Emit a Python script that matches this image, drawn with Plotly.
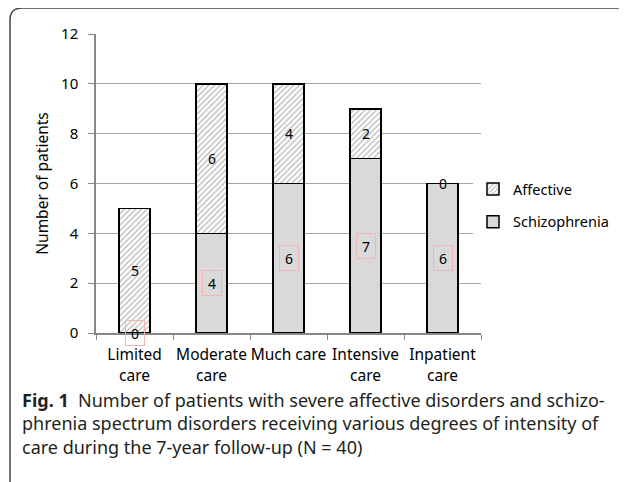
import plotly.graph_objects as go

categories = ["Limited<br>care", "Moderate<br>care", "Much care", "Intensive<br>care", "Inpatient<br>care"]
schizophrenia = [0, 4, 6, 7, 6]
affective = [5, 6, 4, 2, 0]
y_ticks = [0, 2, 4, 6, 8, 10, 12]

W, H = 627, 482
OFF = 8  # page body margin
L, R, T, B = 96 - OFF, 481 - OFF, 34 - OFF, 333 - OFF

fig = go.Figure()
fig.add_trace(go.Bar(
    x=categories, y=schizophrenia, name="Schizophrenia", legendgroup="s", legendrank=2,
    marker=dict(color="#d9d9d9", line=dict(color="black", width=1.5)),
    width=0.4,
))
fig.add_trace(go.Bar(
    x=categories, y=affective, name="Affective", legendgroup="a", legendrank=1,
    marker=dict(color="white", line=dict(color="black", width=1.5),
                pattern=dict(shape="/", fgcolor="#7a7a7a", bgcolor="white", size=4, solidity=0.35)),
    width=0.4,
))

font_main = "Noto Sans"
ann = []
for c, s, a in zip(categories, schizophrenia, affective):
    ann.append(dict(x=c, y=s / 2, xref="x", yref="y", text=str(s), showarrow=False,
                    font=dict(family=font_main, size=14, color="black"),
                    width=18, height=24, bordercolor="#f2b5b5", borderwidth=1, borderpad=0))
    ann.append(dict(x=c, y=s + a / 2, xref="x", yref="y", text=str(a), showarrow=False,
                    font=dict(family=font_main, size=14, color="black")))

def px(xs):
    return (xs - OFF - L) / (R - L)

def py(ys):
    return 1 - (ys - OFF - T) / (B - T)

ann.append(dict(
    x=px(20), y=py(386), xref="paper", yref="paper", xanchor="left", yanchor="top",
    align="left", showarrow=False,
    text=("<b>Fig. 1</b>  Number of patients with severe affective disorders and schizo-<br>"
          "phrenia spectrum disorders receiving various degrees of intensity of<br>"
          "care during the 7-year follow-up (N = 40)"),
    font=dict(family=font_main, size=18, color="#231f20"),
))

r = 12
x0, y0 = 10, 8
x1, y1 = 660, 520
path = (f"M {px(x0)},{py(y1)} L {px(x0)},{py(y0 + r)} "
        f"Q {px(x0)},{py(y0)} {px(x0 + r)},{py(y0)} L {px(x1)},{py(y0)}")

fig.update_layout(
    width=W, height=H,
    margin=dict(l=L, r=W - R, t=T, b=H - B, pad=0, autoexpand=False),
    paper_bgcolor="white", plot_bgcolor="white",
    barmode="stack", bargap=0.6,
    showlegend=True,
    legend=dict(x=px(473), y=py(173), xanchor="left", yanchor="top",
                traceorder="grouped", tracegroupgap=11,
                font=dict(family=font_main, size=14.5, color="black"),
                itemwidth=30),
    annotations=ann,
    shapes=[dict(type="path", path=path, xref="paper", yref="paper",
                 line=dict(color="#444", width=1.5))],
    xaxis=dict(showline=True, linecolor="#888", linewidth=1.5, ticks="outside",
               tickson="boundaries", ticklen=5, tickcolor="#888", ticklabelstandoff=7,
               tickangle=0, automargin=False,
               tickfont=dict(family=font_main, size=15.5, color="black")),
    yaxis=dict(range=[0, 12], tickvals=y_ticks, showline=True, linecolor="#888", linewidth=1.5,
               ticks="outside", ticklen=6, tickcolor="#888", ticklabelstandoff=7,
               showgrid=True, gridcolor="#a6a6a6", gridwidth=1, automargin=False,
               tickfont=dict(family=font_main, size=15, color="black"),
               title=dict(text="Number of patients", font=dict(family=font_main, size=15.5, color="black"),
                          standoff=9)),
)

fig.write_html("out.html")
